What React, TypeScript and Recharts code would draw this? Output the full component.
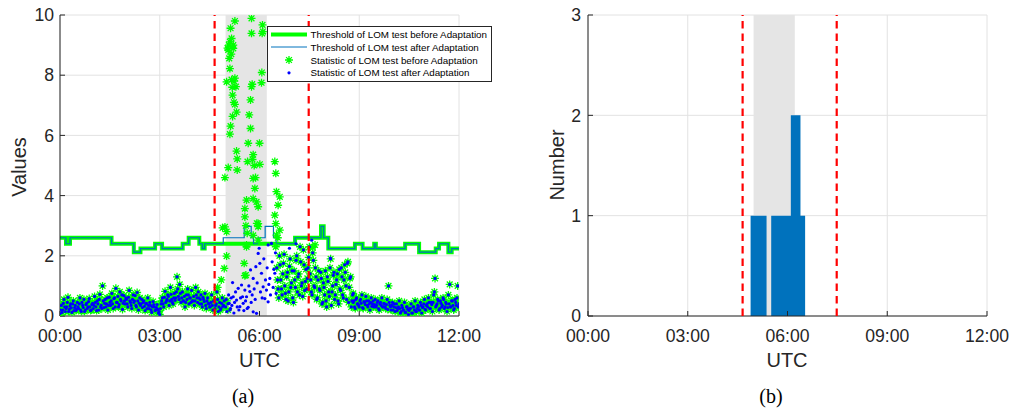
import React from 'react';
import {
  ComposedChart,
  XAxis,
  YAxis,
  CartesianGrid,
  Scatter,
  Line,
  Area,
  ReferenceArea,
  ReferenceLine,
  Legend,
  Label,
} from 'recharts';

const FONT = '"Liberation Sans", Arial, Helvetica, sans-serif';
const AX = '#262626';
const GRID = '#e2e2e2';

// ---- axes ----
const xTicks = [0, 3, 6, 9, 12];
const xTickLabels = ['00:00', '03:00', '06:00', '09:00', '12:00'];
const valueTicks = [0, 2, 4, 6, 8, 10];
const numberTicks = [0, 1, 2, 3];

// ---- event markers (hours UTC) ----
const alarmLines = [4.65, 7.48];
const anomalyWindow = [4.98, 6.22];

// ---- thresholds (step functions) ----
const thrBeforeT = [0, 0.18, 0.3, 1.55, 2.22, 2.42, 2.86, 3.07, 3.69, 3.87, 4.19, 4.28, 4.35, 7.07, 7.85, 7.93, 8.07, 8.87, 9.1, 9.45, 9.5, 10.38, 10.8, 11.3, 11.4, 11.68, 11.78, 12];
const thrBeforeV = [2.6, 2.4, 2.6, 2.4, 2.12, 2.24, 2.4, 2.24, 2.4, 2.6, 2.4, 2.24, 2.4, 2.6, 2.98, 2.6, 2.24, 2.4, 2.24, 2.4, 2.24, 2.4, 2.12, 2.24, 2.4, 2.12, 2.24, 2.24];
const thrAfterT = [0, 0.18, 0.3, 1.55, 2.22, 2.42, 2.86, 3.07, 3.69, 3.87, 4.19, 4.28, 4.35, 4.91, 5.54, 5.75, 5.82, 5.95, 6.17, 6.42, 6.5, 7.07, 7.85, 7.93, 8.07, 8.87, 9.1, 9.45, 9.5, 10.38, 10.8, 11.3, 11.4, 11.68, 11.78, 12];
const thrAfterV = [2.6, 2.4, 2.6, 2.4, 2.12, 2.24, 2.4, 2.24, 2.4, 2.6, 2.4, 2.24, 2.4, 2.6, 2.98, 2.6, 2.4, 2.6, 2.98, 2.6, 2.4, 2.6, 2.98, 2.6, 2.24, 2.4, 2.24, 2.4, 2.24, 2.4, 2.12, 2.24, 2.4, 2.12, 2.24, 2.24];

// ---- statistics sampled every 0.04 h (shared by both tests outside the event) ----
const SAMPLE_STEP = 0.04;
const segAStart = 0;
const segAValues = [
  0.08, 0.35, 0.2, 0.55, 0.15, 0.3, 0.62, 0.22, 0.4, 0.12, 0.5, 0.28, 0.18,
  0.45, 0.25, 0.6, 0.15, 0.35, 0.55, 0.2, 0.42, 0.3, 0.58, 0.18, 0.38,
  0.25, 0.65, 0.3, 0.5, 0.2, 0.72, 0.35, 1.0, 0.28, 0.55, 0.4, 0.2, 0.62,
  0.35, 0.75, 0.25, 0.6, 0.92, 0.45, 0.3, 0.8, 0.5, 0.22, 0.68, 0.4,
  0.55, 0.3, 0.85, 0.45, 0.25, 0.7, 0.5, 0.35, 0.78, 0.2, 0.6, 0.4, 0.28,
  0.5, 0.18, 0.42, 0.6, 0.25, 0.35, 0.12, 0.48, 0.3, 0.2, 0.38, 0.1,
  0.05, 0.4, 0.6, 0.3, 0.82, 0.5, 0.7, 0.35, 0.95, 0.55, 0.4, 0.75, 0.6,
  1.3, 0.65, 1.05, 0.45, 0.8, 0.5, 0.3, 0.7, 0.9, 0.4, 0.6, 0.85,
  0.5, 0.35, 0.95, 0.6, 0.8, 0.4, 0.7, 0.3, 0.55, 0.75, 0.25, 0.6, 0.4,
  0.3, 0.7, 0.2, 0.5, 0.35, 0.8, 0.15, 0.45, 0.25, 0.6, 0.35,
];
const segBStart = 0.02;
const segBValues = [
  0.2, 0.12, 0.42, 0.3, 0.25, 0.45, 0.15, 0.33, 0.27, 0.4, 0.18, 0.35, 0.22,
  0.3, 0.4, 0.2, 0.45, 0.28, 0.15, 0.38, 0.25, 0.48, 0.3, 0.2, 0.42,
  0.35, 0.45, 0.18, 0.4, 0.55, 0.3, 0.25, 0.5, 0.42, 0.3, 0.6, 0.35, 0.45,
  0.5, 0.4, 0.58, 0.3, 0.45, 0.65, 0.38, 0.55, 0.7, 0.42, 0.5, 0.6,
  0.4, 0.62, 0.5, 0.35, 0.55, 0.45, 0.68, 0.3, 0.5, 0.42, 0.35, 0.55, 0.45,
  0.32, 0.4, 0.25, 0.35, 0.45, 0.2, 0.3, 0.38, 0.18, 0.28, 0.22, 0.15,
  0.25, 0.5, 0.4, 0.62, 0.45, 0.55, 0.65, 0.5, 0.72, 0.45, 0.6, 0.52, 0.8,
  0.9, 0.55, 0.75, 0.6, 0.5, 0.65, 0.45, 0.55, 0.7, 0.6, 0.45, 0.5,
  0.65, 0.5, 0.7, 0.45, 0.6, 0.55, 0.4, 0.62, 0.48, 0.35, 0.5, 0.42, 0.3,
  0.45, 0.35, 0.5, 0.25, 0.4, 0.55, 0.3, 0.2, 0.42, 0.32, 0.5,
];
const segCStart = 6.52;
const segCValues = [
  1.6, 0.9, 2.0, 1.2, 0.7, 1.75, 1.0, 0.55, 1.45, 0.8, 1.9, 1.1,
  0.6, 1.5, 0.95, 2.0, 1.3, 0.7, 1.8, 1.1, 2.2, 0.85, 1.55, 1.25, 1.95,
  1.4, 0.8, 2.1, 1.0, 1.6, 0.55, 1.2, 0.9, 1.45, 0.4, 1.1, 0.7,
  0.5, 1.3, 0.8, 1.6, 0.35, 1.0, 1.45, 0.7, 1.2, 0.5, 1.55, 0.85, 1.3,
  0.6, 1.7, 1.0, 1.75, 0.45, 1.25, 0.3, 0.7, 0.5, 0.25, 0.6, 0.4,
  0.3, 0.55, 0.7, 0.25, 0.45, 0.65, 0.35, 0.5, 0.2, 0.6, 0.4, 0.3, 0.55,
  0.35, 0.5, 0.2, 0.45, 0.6, 0.3, 0.4, 0.25, 0.55, 1.0, 0.35, 0.2,
  0.45, 0.3, 0.15, 0.4, 0.25, 0.5, 0.1, 0.35, 0.2, 0.45, 0.12, 0.3, 0.05,
  0.25, 0.4, 0.1, 0.3, 0.5, 0.15, 0.35, 0.2, 0.45, 0.1, 0.3, 0.55,
  0.2, 0.4, 0.6, 0.25, 0.45, 0.15, 0.7, 1.25, 0.35, 0.55, 0.2, 0.5, 0.3,
  0.6, 0.25, 0.45, 0.15, 0.7, 1.05, 0.3, 0.5, 0.2, 0.55, 0.35, 1.0, 0.4,
];
const segDStart = 6.54;
const segDValues = [
  1.2, 0.6, 1.7, 0.9, 1.4, 2.05, 0.75, 1.3, 0.5, 1.65, 0.95,
  1.5, 0.45, 1.2, 1.85, 0.8, 1.4, 2.3, 1.0, 0.65, 1.7, 1.15,
  0.9, 1.6, 2.3, 1.2, 0.7, 1.85, 0.95, 1.3, 0.6, 1.5, 0.85,
  1.25, 0.45, 0.95, 1.5, 0.3, 1.15, 0.65, 1.9, 0.8, 1.35, 0.55,
  1.05, 1.4, 0.4, 0.9, 1.6, 0.7, 1.2, 1.45, 0.55, 1.8, 0.95, 1.3, 0.5, 0.75,
];
const segEStart = 8.82;
const segEValues = [
  0.45, 0.3, 0.55, 0.4, 0.35, 0.5, 0.42, 0.28, 0.48, 0.38, 0.5, 0.3,
  0.4, 0.45, 0.32, 0.5, 0.38, 0.3, 0.45, 0.25, 0.4, 0.35, 0.3, 0.42,
  0.3, 0.38, 0.22, 0.45, 0.3, 0.35, 0.2, 0.4, 0.28, 0.18, 0.3, 0.25,
  0.15, 0.28, 0.2, 0.12, 0.3, 0.22, 0.18, 0.25, 0.1, 0.3, 0.2, 0.15,
  0.25, 0.3, 0.2, 0.35, 0.28, 0.4, 0.22, 0.35, 0.3, 0.45, 0.25, 0.38,
  0.45, 0.8, 0.3, 0.4, 0.5, 0.25, 0.42, 0.35, 0.55, 0.3, 0.4, 0.28,
  0.4, 0.3, 0.5, 0.35, 0.25, 0.45, 0.6, 0.3,
];

// ---- points of one test only ----
const beforeOnly: [number, number][] = [
  [4.74, 0.95], [4.85, 1.2], [4.89, 2.93], [4.94, 1.58], [4.96, 4.6], [4.96, 2.96], [5.01, 2.8], [5.01, 1.99],
  [5.01, 7.78], [5.02, 0.5], [5.04, 8.9], [5.05, 0.2], [5.06, 8.84], [5.06, 4.93], [5.08, 9.0], [5.09, 8.56],
  [5.11, 9.11], [5.11, 8.22], [5.11, 6.04], [5.13, 9.56], [5.13, 6.31], [5.15, 8.7], [5.16, 9.22], [5.16, 7.85],
  [5.18, 7.6], [5.19, 7.34], [5.19, 6.63], [5.21, 8.89], [5.21, 9.0], [5.23, 7.1], [5.24, 7.8], [5.26, 9.8],
  [5.26, 7.9], [5.26, 7.03], [5.29, 7.62], [5.31, 6.77], [5.31, 5.48], [5.33, 5.22], [5.33, 4.85],
  [5.54, 1.75], [5.56, 3.57], [5.56, 3.29], [5.56, 1.34], [5.59, 3.0], [5.59, 1.36], [5.61, 3.85], [5.61, 2.3],
  [5.61, 2.36], [5.63, 2.75], [5.64, 5.13], [5.66, 5.74], [5.69, 6.68], [5.73, 7.18], [5.73, 6.23], [5.76, 9.89],
  [5.76, 9.39], [5.76, 7.62], [5.78, 7.7], [5.79, 5.2], [5.81, 5.36], [5.81, 4.57], [5.81, 3.9], [5.81, 2.68],
  [5.84, 5.0], [5.86, 4.24], [5.88, 4.6], [5.91, 3.79], [5.92, 3.08], [5.96, 3.63], [5.96, 3.07], [5.96, 2.97],
  [5.96, 2.52], [6.0, 5.74], [6.01, 5.04], [6.06, 7.75], [6.07, 8.09], [6.08, 9.39], [6.09, 9.67], [6.1, 9.45],
  [6.46, 5.13], [6.46, 3.35], [6.49, 4.74], [6.49, 3.07], [6.49, 2.3], [6.51, 4.13], [6.51, 2.69], [6.55, 2.6],
  [6.56, 3.68], [6.61, 3.96], [6.61, 2.85], [7.6, 2.28], [7.67, 2.36],
];
const afterOnly: [number, number][] = [
  [4.98, 0.3], [5.0, 0.55], [5.02, 0.15], [5.05, 0.4], [5.07, 0.7], [5.09, 0.42], [5.11, 0.2], [5.13, 0.25],
  [5.15, 0.6], [5.17, 0.35], [5.19, 1.11], [5.21, 0.64], [5.23, 0.1], [5.25, 0.45], [5.28, 0.8], [5.31, 0.53],
  [5.33, 0.3], [5.36, 0.92], [5.38, 0.2], [5.41, 0.31], [5.43, 0.6], [5.46, 1.03], [5.49, 0.64], [5.51, 0.42],
  [5.53, 0.18], [5.56, 0.86], [5.58, 0.5], [5.61, 0.64], [5.63, 0.25], [5.66, 0.29], [5.68, 1.0], [5.71, 0.81],
  [5.73, 1.53], [5.75, 0.45], [5.78, 0.7], [5.81, 1.25], [5.81, 0.14], [5.84, 0.9], [5.87, 0.55], [5.89, 1.64],
  [5.91, 0.09], [5.93, 1.1], [5.96, 2.08], [5.99, 2.25], [6.01, 1.75], [6.03, 0.8], [6.06, 1.42], [6.08, 0.6],
  [6.11, 0.97], [6.13, 1.9], [6.16, 0.58], [6.18, 1.2], [6.21, 0.86], [6.23, 1.6], [6.26, 2.36], [6.26, 0.47],
  [6.28, 1.05], [6.31, 1.25], [6.33, 0.7], [6.36, 2.41], [6.38, 1.8], [6.41, 0.95], [6.43, 1.55], [6.46, 1.42],
  [6.48, 2.1], [6.5, 0.75], [6.9, 2.25], [7.1, 2.4], [7.57, 2.52], [8.13, 1.92],
];

// ---- alarm histogram (bin edges in hours, counts) ----
const histEdges = [4.89, 5.37, 5.51, 6.1, 6.39, 6.53];
const histCounts = [1, 0, 1, 2, 1, 0];

const legendLabels = [
  'Threshold of LOM test before Adaptation',
  'Threshold of LOM test after Adaptation',
  'Statistic of LOM test before Adaptation',
  'Statistic of LOM test after Adaptation',
];

// ---- build series ----
const sampled = (start: number, vals: number[]) =>
  vals.map((v, i) => ({ t: Math.round((start + i * SAMPLE_STEP) * 1000) / 1000, v }));
const shared = [
  ...sampled(segAStart, segAValues),
  ...sampled(segBStart, segBValues),
  ...sampled(segCStart, segCValues),
  ...sampled(segDStart, segDValues),
  ...sampled(segEStart, segEValues),
];
const statBefore = [...shared, ...beforeOnly.map(([t, v]) => ({ t, v }))];
const statAfter = [...shared, ...afterOnly.map(([t, v]) => ({ t, v }))];
const thrBefore = thrBeforeT.map((t, i) => ({ t, v: thrBeforeV[i] }));
const thrAfter = thrAfterT.map((t, i) => ({ t, v: thrAfterV[i] }));
const hist = histEdges.map((t, i) => ({ t, v: histCounts[i] }));

const fmtX = (h: number) => xTickLabels[xTicks.indexOf(h)] ?? '';

const GREEN = '#00ff00';
const BLUE_LINE = '#0072bd';
const BLUE_DOT = '#0000ff';
const RED = '#ff0000';

const Star = (props: any) => {
  const { cx, cy } = props;
  if (cx == null || cy == null) return <g />;
  const r = 4;
  const d = 2.9;
  return (
    <path
      d={`M${cx - r},${cy}H${cx + r}M${cx},${cy - r}V${cy + r}M${cx - d},${cy - d}L${cx + d},${cy + d}M${cx - d},${cy + d}L${cx + d},${cy - d}`}
      stroke={GREEN}
      strokeWidth={1.3}
      fill="none"
    />
  );
};
const Dot = (props: any) => {
  const { cx, cy } = props;
  if (cx == null || cy == null) return <g />;
  return <circle cx={cx} cy={cy} r={1.6} fill={BLUE_DOT} />;
};

const tickStyle = { fontSize: 17.6, fill: AX, fontFamily: FONT };

const LegendBox = () => (
  <svg width={226} height={57} style={{ display: 'block' }}>
    <rect x={0.5} y={0.5} width={224} height={55} fill="#fff" stroke={AX} strokeWidth={1} />
    <line x1={4} x2={40} y1={8.5} y2={8.5} stroke={GREEN} strokeWidth={4} />
    <line x1={4} x2={40} y1={21} y2={21} stroke={BLUE_LINE} strokeWidth={1} />
    <Star cx={22} cy={34} />
    <Dot cx={22} cy={46.8} />
    {legendLabels.map((s, i) => (
      <text key={s} x={43.5} y={8.5 + i * 12.8 + 3.5} fontSize={9.8} fontFamily={FONT} fill="#000">
        {s}
      </text>
    ))}
  </svg>
);

const textProps = { fontFamily: FONT, fill: AX, fontSize: 20 } as const;

export default function App() {
  return (
    <div style={{ position: 'fixed', left: 0, top: 0, width: 1010, height: 410, background: '#fff', overflow: 'hidden' }}>
      {/* (a) */}
      <div style={{ position: 'absolute', left: 0, top: 0 }}>
        <ComposedChart width={505} height={410} margin={{ top: 15, right: 46, bottom: 64, left: 20 }}>
          <CartesianGrid stroke={GRID} strokeWidth={1} />
          <ReferenceArea x1={anomalyWindow[0]} x2={anomalyWindow[1]} y1={0} y2={10} fill="#e5e5e5" fillOpacity={1} stroke="none" zIndex={-50} ifOverflow="hidden" />
          <XAxis
            dataKey="t" type="number" domain={[0, 12]} ticks={xTicks} interval={0} tickFormatter={fmtX}
            stroke={AX} tickSize={-5} tickMargin={19} height={30} tick={tickStyle} allowDataOverflow
            label={<Label content={() => <text x={259.5} y={367} textAnchor="middle" {...textProps}>UTC</text>} />}
          />
          <XAxis xAxisId="top" orientation="top" type="number" domain={[0, 12]} ticks={xTicks} interval={0} stroke={AX} tickSize={-5} height={0} tick={false} allowDataOverflow />
          <YAxis
            dataKey="v" type="number" domain={[0, 10]} ticks={valueTicks} interval={0} stroke={AX} tickSize={-5}
            tickMargin={11} width={40} tick={tickStyle} allowDataOverflow
            label={<Label content={() => <text x={26} y={167} transform="rotate(-90 26 167)" textAnchor="middle" {...textProps}>Values</text>} />}
          />
          <YAxis yAxisId="right" orientation="right" type="number" domain={[0, 10]} ticks={valueTicks} interval={0} stroke={AX} tickSize={-5} width={0} tick={false} allowDataOverflow />
          <Line data={thrBefore} dataKey="v" type="stepAfter" stroke={GREEN} strokeWidth={4} dot={false} activeDot={false} isAnimationActive={false} zIndex={400} />
          <Line data={thrAfter} dataKey="v" type="stepAfter" stroke={BLUE_LINE} strokeWidth={1.2} dot={false} activeDot={false} isAnimationActive={false} zIndex={410} />
          <Scatter data={statBefore} dataKey="v" shape={Star} isAnimationActive={false} zIndex={600} />
          <Scatter data={statAfter} dataKey="v" shape={Dot} isAnimationActive={false} zIndex={610} />
          {alarmLines.map((x) => (
            <ReferenceLine key={x} x={x} stroke={RED} strokeWidth={2.2} strokeDasharray="7.5 5" zIndex={700} />
          ))}
          <Legend layout="vertical" align="center" verticalAlign="middle" content={() => <LegendBox />} wrapperStyle={{ position: 'absolute', left: 267, top: 26, width: 226, height: 57 }} />
        </ComposedChart>
      </div>
      {/* (b) */}
      <div style={{ position: 'absolute', left: 505, top: 0 }}>
        <ComposedChart width={505} height={410} margin={{ top: 15, right: 23, bottom: 64, left: 43 }}>
          <CartesianGrid stroke={GRID} strokeWidth={1} />
          <ReferenceArea x1={anomalyWindow[0]} x2={anomalyWindow[1]} y1={0} y2={3} fill="#e5e5e5" fillOpacity={1} stroke="none" zIndex={-50} ifOverflow="hidden" />
          <XAxis
            dataKey="t" type="number" domain={[0, 12]} ticks={xTicks} interval={0} tickFormatter={fmtX}
            stroke={AX} tickSize={-5} tickMargin={19} height={30} tick={tickStyle} allowDataOverflow
            label={<Label content={() => <text x={282} y={367} textAnchor="middle" {...textProps}>UTC</text>} />}
          />
          <XAxis xAxisId="top" orientation="top" type="number" domain={[0, 12]} ticks={xTicks} interval={0} stroke={AX} tickSize={-5} height={0} tick={false} allowDataOverflow />
          <YAxis
            dataKey="v" type="number" domain={[0, 3]} ticks={numberTicks} interval={0} stroke={AX} tickSize={-5}
            tickMargin={12} width={40} tick={tickStyle} allowDataOverflow
            label={<Label content={() => <text x={58.5} y={165} transform="rotate(-90 58.5 165)" textAnchor="middle" {...textProps}>Number</text>} />}
          />
          <YAxis yAxisId="right" orientation="right" type="number" domain={[0, 3]} ticks={numberTicks} interval={0} stroke={AX} tickSize={-5} width={0} tick={false} allowDataOverflow />
          <Area data={hist} dataKey="v" type="stepAfter" fill={BLUE_LINE} fillOpacity={1} stroke="none" baseValue={0} dot={false} activeDot={false} isAnimationActive={false} zIndex={300} />
          {alarmLines.map((x) => (
            <ReferenceLine key={x} x={x} stroke={RED} strokeWidth={2.2} strokeDasharray="7.5 5" zIndex={700} />
          ))}
        </ComposedChart>
      </div>
      <div style={{ position: 'absolute', left: 0, top: 384, width: 486, textAlign: 'center', fontFamily: '"Liberation Serif", "Times New Roman", serif', fontSize: 20, color: '#000', lineHeight: '24px' }}>
        (a)
      </div>
      <div style={{ position: 'absolute', left: 531, top: 384, width: 480, textAlign: 'center', fontFamily: '"Liberation Serif", "Times New Roman", serif', fontSize: 20, color: '#000', lineHeight: '24px' }}>
        (b)
      </div>
    </div>
  );
}
